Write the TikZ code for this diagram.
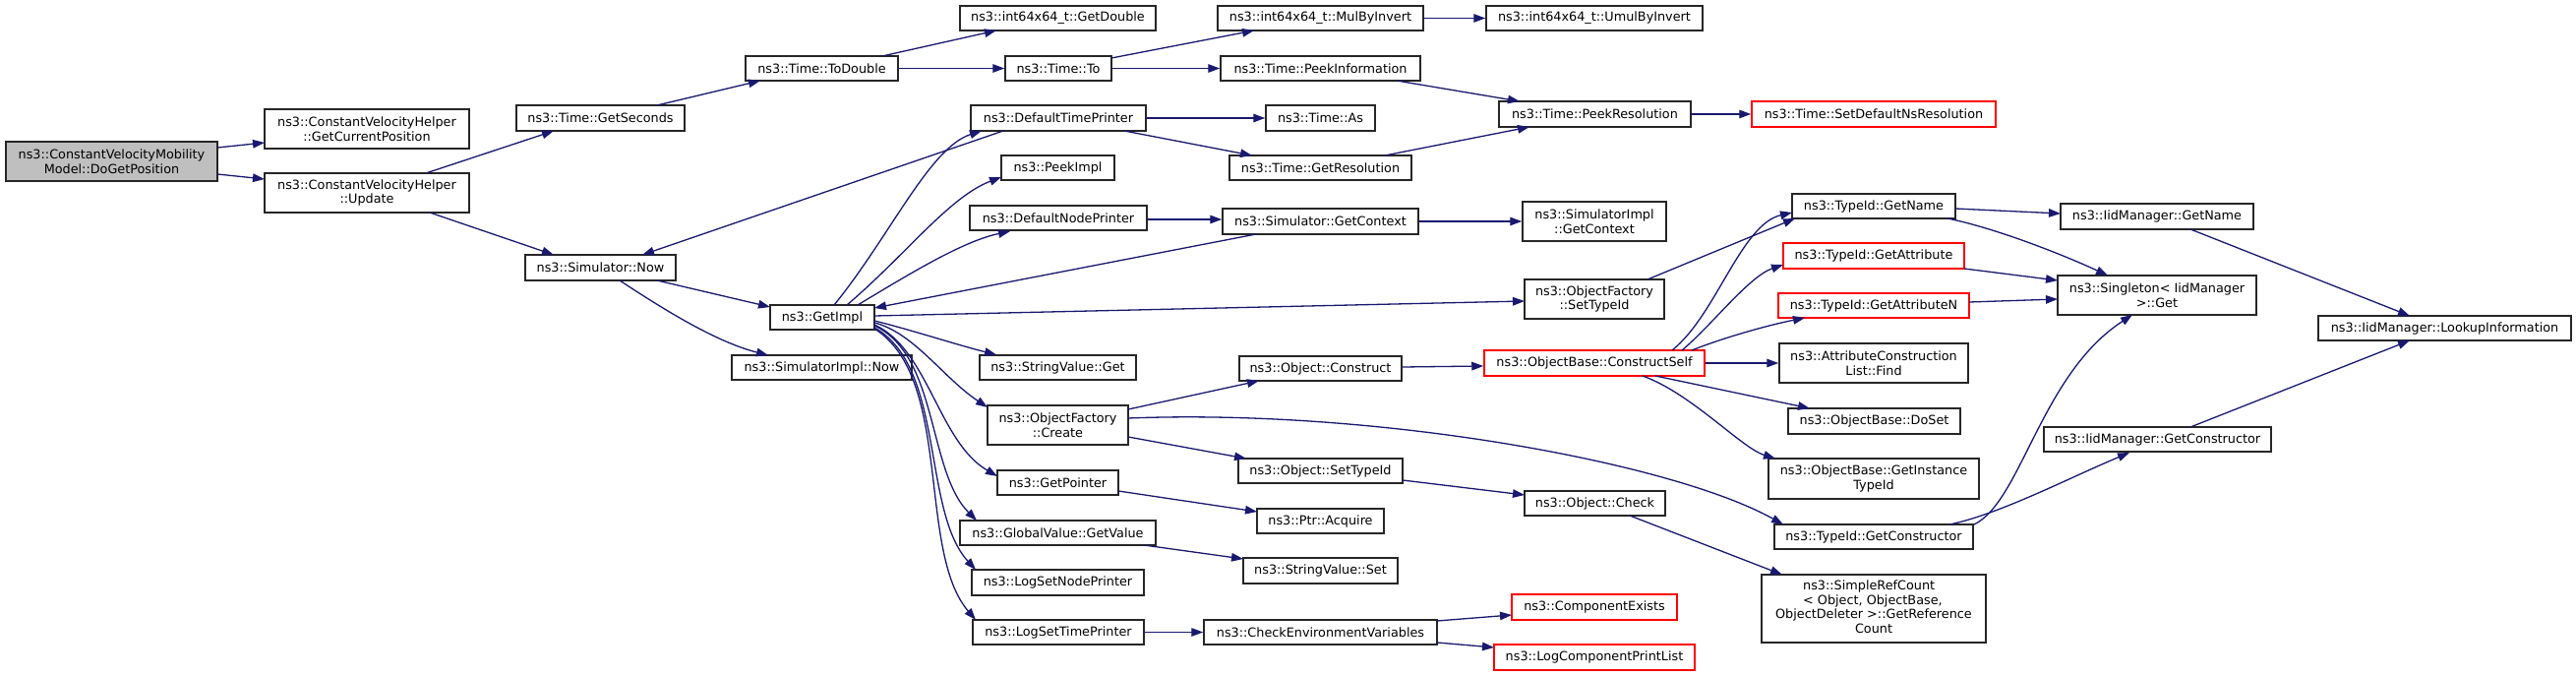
\documentclass[tikz,border=0pt]{standalone}
\usepackage{fontspec}
\setmainfont{DejaVu Sans}
\usetikzlibrary{arrows.meta}
\definecolor{edgeblue}{RGB}{25,25,112}
\definecolor{rootgray}{RGB}{191,191,191}
\newcommand\nbox[7]{\node[#1,minimum width={(#5)-(#3)},minimum height={(#6)-(#4)}] (#2) at ({((#3)+(#5))/2},{((#4)+(#6))/2}) {#7};}
\begin{document}
\begin{tikzpicture}[x=1pt,y=-1pt,
  box/.style={draw=black!85,line width=1.5pt,fill=white,inner sep=0pt,align=center,font=\fontsize{12.8}{14.7}\selectfont},
  redbox/.style={box,draw=red},
  rootbox/.style={box,fill=rootgray},
  calls/.style={draw=edgeblue,line width=1.3pt,-{Triangle[length=12pt,width=8.5pt]}}]
\fill[white] (0,0) rectangle (2619,687);
\useasboundingbox (0,0) rectangle (2619,687);
% nodes
\nbox{rootbox}{root}{6}{144}{221}{184}{ns3::ConstantVelocityMobility\\Model::DoGetPosition}
\nbox{box}{gcp}{269}{111}{477}{151}{ns3::ConstantVelocityHelper\\::GetCurrentPosition}
\nbox{box}{upd}{269}{176}{477}{216}{ns3::ConstantVelocityHelper\\::Update}
\nbox{box}{gsec}{525}{107}{696}{133}{ns3::Time::GetSeconds}
\nbox{box}{todbl}{758}{57}{913}{82}{ns3::Time::ToDouble}
\nbox{box}{snow}{534}{259}{687}{285}{ns3::Simulator::Now}
\nbox{box}{gimpl}{783}{310}{889}{335}{ns3::GetImpl}
\nbox{box}{gdbl}{976}{6}{1175}{31}{ns3::int64x64\_t::GetDouble}
\nbox{box}{to}{1022}{57}{1130}{82}{ns3::Time::To}
\nbox{box}{mbi}{1238}{6}{1447}{31}{ns3::int64x64\_t::MulByInvert}
\nbox{box}{pinf}{1241}{57}{1444}{82}{ns3::Time::PeekInformation}
\nbox{box}{dtp}{987}{107}{1165}{133}{ns3::DefaultTimePrinter}
\nbox{box}{as}{1287}{107}{1398}{133}{ns3::Time::As}
\nbox{box}{pimpl}{1018}{158}{1133}{183}{ns3::PeekImpl}
\nbox{box}{gres}{1250}{158}{1435}{183}{ns3::Time::GetResolution}
\nbox{box}{dnp}{986}{209}{1166}{234}{ns3::DefaultNodePrinter}
\nbox{box}{sgc}{1243}{212}{1442}{238}{ns3::Simulator::GetContext}
\nbox{box}{umbi}{1511}{6}{1731}{31}{ns3::int64x64\_t::UmulByInvert}
\nbox{box}{pres}{1524}{103}{1719}{129}{ns3::Time::PeekResolution}
\nbox{box}{sigc}{1548}{205}{1694}{245}{ns3::SimulatorImpl\\::GetContext}
\nbox{box}{ofst}{1550}{284}{1692}{324}{ns3::ObjectFactory\\::SetTypeId}
\nbox{redbox}{sdnr}{1781}{103}{2029}{129}{ns3::Time::SetDefaultNsResolution}
\nbox{box}{tgn}{1822}{197}{1988}{222}{ns3::TypeId::GetName}
\nbox{box}{ign}{2095}{207}{2291}{233}{ns3::IidManager::GetName}
\nbox{redbox}{tga}{1813}{247}{1997}{273}{ns3::TypeId::GetAttribute}
\nbox{redbox}{tgan}{1808}{298}{2002}{323}{ns3::TypeId::GetAttributeN}
\nbox{box}{sget}{2092}{280}{2294}{320}{ns3::Singleton< IidManager\\ >::Get}
\nbox{box}{look}{2357}{321}{2614}{346}{ns3::IidManager::LookupInformation}
\nbox{box}{sinow}{744}{361}{927}{386}{ns3::SimulatorImpl::Now}
\nbox{box}{svg}{996}{361}{1155}{386}{ns3::StringValue::Get}
\nbox{box}{ofc}{1004}{412}{1147}{452}{ns3::ObjectFactory\\::Create}
\nbox{box}{gptr}{1014}{478}{1137}{503}{ns3::GetPointer}
\nbox{box}{ggv}{976}{529}{1175}{554}{ns3::GlobalValue::GetValue}
\nbox{box}{lsnp}{988}{579}{1163}{605}{ns3::LogSetNodePrinter}
\nbox{box}{lstp}{989}{630}{1163}{655}{ns3::LogSetTimePrinter}
\nbox{box}{ocon}{1260}{362}{1425}{387}{ns3::Object::Construct}
\nbox{box}{osti}{1259}{466}{1426}{491}{ns3::Object::SetTypeId}
\nbox{box}{pacq}{1278}{517}{1407}{542}{ns3::Ptr::Acquire}
\nbox{box}{svs}{1264}{567}{1421}{593}{ns3::StringValue::Set}
\nbox{box}{cev}{1224}{630}{1461}{655}{ns3::CheckEnvironmentVariables}
\nbox{redbox}{ocs}{1509}{356}{1733}{382}{ns3::ObjectBase::ConstructSelf}
\nbox{box}{ochk}{1550}{499}{1693}{524}{ns3::Object::Check}
\nbox{redbox}{cex}{1537}{604}{1705}{630}{ns3::ComponentExists}
\nbox{redbox}{lcpl}{1519}{655}{1723}{681}{ns3::LogComponentPrintList}
\nbox{box}{acl}{1809}{349}{2001}{389}{ns3::AttributeConstruction\\List::Find}
\nbox{box}{dos}{1818}{415}{1993}{441}{ns3::ObjectBase::DoSet}
\nbox{box}{git}{1798}{466}{2012}{507}{ns3::ObjectBase::GetInstance\\TypeId}
\nbox{box}{tgc}{1804}{533}{2006}{558}{ns3::TypeId::GetConstructor}
\nbox{box}{src}{1791}{584}{2019}{653}{\begin{tabular}{@{}l@{}}\hspace*{28pt}ns3::SimpleRefCount\\\hspace*{28pt}< Object, ObjectBase,\\\multicolumn{1}{@{}c@{}}{ObjectDeleter >::GetReference}\\\multicolumn{1}{@{}c@{}}{Count}\end{tabular}}
\nbox{box}{igc}{2078}{434}{2309}{459}{ns3::IidManager::GetConstructor}
% edges
\draw[calls] ([shift={(107.5,-14)}]root.center) -- ([shift={(-104,14)}]gcp.center);
\draw[calls] ([shift={(107.5,13)}]root.center) -- ([shift={(-104,-14)}]upd.center);
\draw[calls] ([shift={(60,-20)}]upd.center) -- ([shift={(-47.5,13)}]gsec.center);
\draw[calls] ([shift={(64,20)}]upd.center) -- ([shift={(-47.5,-13)}]snow.center);
\draw[calls] ([shift={(57.5,-13)}]gsec.center) -- ([shift={(-62.5,12.5)}]todbl.center);
\draw[calls] ([shift={(61.5,-12.5)}]todbl.center) -- ([shift={(-62.5,12.5)}]gdbl.center);
\draw[calls] (todbl.east) -- (to.west);
\draw[calls] ([shift={(54,-10.5)}]to.center) -- ([shift={(-67.5,12.5)}]mbi.center);
\draw[calls] (to.east) -- (pinf.west);
\draw[calls] (mbi.east) -- (umbi.west);
\draw[calls] ([shift={(77.5,12.5)}]pinf.center) -- ([shift={(-76.5,-13)}]pres.center);
\draw[calls] (pres.east) -- (sdnr.west);
\draw[calls] ([shift={(57.5,13)}]snow.center) -- ([shift={(-53,-10.5)}]gimpl.center);
\draw[calls] ([shift={(19.5,13)}]snow.center) .. controls +(50,33) and +(-51,-13) .. ([shift={(-54.5,-12.5)}]sinow.center);
\draw[calls] ([shift={(12,-12.5)}]gimpl.center) .. controls +(57,-70) and +(-53,17) .. ([shift={(-78,13)}]dtp.center);
\draw[calls] ([shift={(-56,13)}]dtp.center) -- ([shift={(42.5,-13)}]snow.center);
\draw[calls] ([shift={(25,-12.5)}]gimpl.center) .. controls +(59,-50) and +(-53,20) .. ([shift={(-57.5,9.5)}]pimpl.center);
\draw[calls] ([shift={(36,-12.5)}]gimpl.center) .. controls +(58,-35) and +(-47,10) .. ([shift={(-49,13.5)}]dnp.center);
\draw[calls] ([shift={(-65.5,13)}]sgc.center) -- ([shift={(53,-9.5)}]gimpl.center);
\draw[calls] ([shift={(53,-1.5)}]gimpl.center) -- ([shift={(-71,2)}]ofst.center);
\draw[calls] (dtp.east) -- (as.west);
\draw[calls] ([shift={(67,13)}]dtp.center) -- ([shift={(-69.5,-12.5)}]gres.center);
\draw[calls] ([shift={(65.5,-12.5)}]gres.center) -- ([shift={(-66.5,13)}]pres.center);
\draw[calls] ([shift={(0,1.5)}]dnp.east) -- ([shift={(0,-2)}]sgc.west);
\draw[calls] (sgc.east) -- (sigc.west);
\draw[calls] ([shift={(54,-20)}]ofst.center) -- ([shift={(-80,12.5)}]tgn.center);
\draw[calls] ([shift={(79,-13)}]ocs.center) .. controls +(45,-36) and +(-52,12) .. ([shift={(-83,6.5)}]tgn.center);
\draw[calls] ([shift={(89,-13)}]ocs.center) .. controls +(30,-25) and +(-35,12) .. ([shift={(-92,9)}]tga.center);
\draw[calls] ([shift={(99,-13)}]ocs.center) .. controls +(30,-12) and +(-40,8) .. ([shift={(-70,12.5)}]tgan.center);
\draw[calls] (ocs.east) -- (acl.west);
\draw[calls] ([shift={(62,13)}]ocs.center) -- ([shift={(-65.5,-13)}]dos.center);
\draw[calls] ([shift={(49,13)}]ocs.center) .. controls +(50,18) and +(-35,-11) .. ([shift={(-100,-20.5)}]git.center);
\draw[calls] ([shift={(71.5,-16)}]ofc.center) -- ([shift={(-62.5,12.5)}]ocon.center);
\draw[calls] ([shift={(71.5,-7)}]ofc.center) .. controls +(253,-10) and +(-113,-63) .. ([shift={(-92,-12.5)}]tgc.center);
\draw[calls] ([shift={(71.5,12)}]ofc.center) -- ([shift={(-75.5,-12.5)}]osti.center);
\draw[calls] ([shift={(0,-1.5)}]ocon.east) -- ([shift={(0,3)}]ocs.west);
\draw[calls] ([shift={(83.5,9.5)}]osti.center) -- ([shift={(-71.5,-8.5)}]ochk.center);
\draw[calls] ([shift={(61.5,8.5)}]gptr.center) -- ([shift={(-64.5,-9.5)}]pacq.center);
\draw[calls] ([shift={(87.5,12.5)}]ggv.center) -- ([shift={(-78.5,-12)}]svs.center);
\draw[calls] (lstp.east) -- (cev.west);
\draw[calls] ([shift={(118.5,-11.5)}]cev.center) -- ([shift={(-84,8)}]cex.center);
\draw[calls] ([shift={(118.5,10.5)}]cev.center) -- ([shift={(-102,-10)}]lcpl.center);
\draw[calls] ([shift={(35.5,12.5)}]ochk.center) -- ([shift={(-93,-34.5)}]src.center);
\draw[calls] ([shift={(83,2.5)}]tgn.center) -- ([shift={(-98,-3)}]ign.center);
\draw[calls] ([shift={(75,12.5)}]tgn.center) .. controls +(50,10) and +(-43,-20) .. ([shift={(-50,-20)}]sget.center);
\draw[calls] ([shift={(92,13)}]tga.center) -- ([shift={(-101,-15)}]sget.center);
\draw[calls] ([shift={(97,-3.5)}]tgan.center) -- ([shift={(-101,4)}]sget.center);
\draw[calls] ([shift={(102,-12.5)}]tgc.center) .. controls +(48,-23) and +(-93,60) .. ([shift={(-25,20)}]sget.center);
\draw[calls] ([shift={(77,-12.5)}]tgc.center) .. controls +(50,-10) and +(-60,25) .. ([shift={(-28.5,13.5)}]igc.center);
\draw[calls] ([shift={(34,13)}]ign.center) -- ([shift={(-35.5,-12.5)}]look.center);
\draw[calls] ([shift={(33.5,-12.5)}]igc.center) -- ([shift={(-35.5,12.5)}]look.center);
% fan out of GetImpl
\draw[calls] ([shift={(53,3.5)}]gimpl.center) .. controls +(40,10) and +(-40,-10) .. ([shift={(-62.5,-13)}]svg.center);
\draw[calls] ([shift={(53,5.5)}]gimpl.center) .. controls +(40,10) and +(-45,-30) .. ([shift={(-71.5,-18)}]ofc.center);
\draw[calls] ([shift={(53,7.5)}]gimpl.center) .. controls +(55,25) and +(-60,-35) .. ([shift={(-61.5,-6.5)}]gptr.center);
\draw[calls] ([shift={(53,8.5)}]gimpl.center) .. controls +(65,30) and +(-50,-50) .. ([shift={(-82.5,-12.5)}]ggv.center);
\draw[calls] ([shift={(53,10.5)}]gimpl.center) .. controls +(72,40) and +(-55,-60) .. ([shift={(-83.5,-13)}]lsnp.center);
\draw[calls] ([shift={(53,11.5)}]gimpl.center) .. controls +(80,50) and +(-60,-70) .. ([shift={(-84,-12.5)}]lstp.center);
\end{tikzpicture}
\end{document}
